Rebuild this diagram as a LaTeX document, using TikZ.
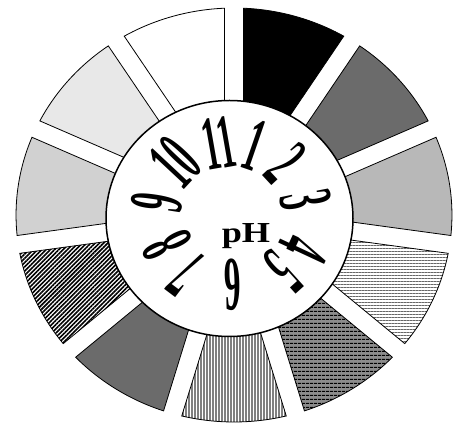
\documentclass[tikz,border=0pt]{standalone}
\usepackage{fontspec}
\setmainfont{Liberation Serif}
\usetikzlibrary{patterns.meta}

\begin{document}
\begin{tikzpicture}[x=1pt,y=1pt,
  wedge/.style={draw=black,line width=0.8pt},
  w1/.style={wedge,fill=black},
  w2/.style={wedge,fill=black!58},
  w3/.style={wedge,fill=black!28},
  w4/.style={wedge,pattern={Lines[angle=0,distance=3pt,line width=1pt]},pattern color=black!60},
  w5/.style={wedge,preaction={fill=black!45},pattern={Lines[angle=0,distance=4pt,line width=1.3pt]},pattern color=black},
  w6/.style={wedge,pattern={Lines[angle=90,distance=3pt,line width=1.5pt]},pattern color=black!50},
  w7/.style={wedge,fill=black!58},
  w8/.style={wedge,pattern={Lines[angle=45,distance=3pt,line width=1.6pt]},pattern color=black},
  w9/.style={wedge,fill=black!18},
  w10/.style={wedge,fill=black!9},
  w11/.style={wedge,fill=white},
  num/.style={inner sep=0pt,font=\fontsize{77}{77}\selectfont\bfseries}]
  \useasboundingbox (0,0) rectangle (461,423);
  \coordinate (O) at (234,208);
  \coordinate (M) at (229.5,204.5);
  \coordinate (N) at (231,209);
  % the eleven wedges
  \begin{scope}[shift={(O)},xscale=1.053]
    \foreach \i in {1,...,11} {
      \pgfmathsetmacro\aone{90-32.7273*(\i-1)-2.49}
      \pgfmathsetmacro\atwo{90-32.7273*\i+2.49}
      \pgfmathsetmacro\amid{90-32.7273*(\i-0.5)}
      \draw[w\i] (\amid:31.9) -- (\aone:207)
        arc[start angle=\aone,end angle=\atwo,radius=207] -- cycle;
    }
  \end{scope}
  \draw[fill=white,line width=1.5pt] (M) ellipse [x radius=123.5,y radius=118];
  % dial numbers
  \foreach \n/\a/\r in {11/100/72,1/71/73,2/43/75,3/11/76,4/-25/81,5/-48/77,
      6/-89/71,7/-127/75,8/-154/71,9/171/75,10/137/76}
    \node[num,rotate={\a-90}] (n\n) at ([shift={(\a:\r)}]N) {\scalebox{0.43}[1]{\n}};
  \node[inner sep=0pt,font=\fontsize{29}{29}\selectfont\bfseries] (ph) at (246,186.7)
    {\scalebox{1.25}[1]{pH}};
\end{tikzpicture}
\end{document}
